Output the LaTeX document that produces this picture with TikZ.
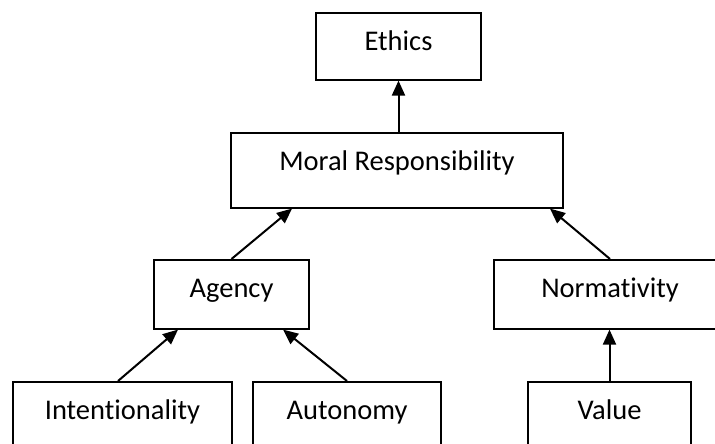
\documentclass[tikz,border=0pt]{standalone}
\usepackage{fontspec}
\setmainfont{Carlito}[Ligatures=NoCommon]
\usetikzlibrary{arrows.meta}
\begin{document}
\begin{tikzpicture}[x=1pt,y=1pt,
  box/.style={draw=black, line width=1.6pt, rectangle, inner sep=0pt, anchor=north,
    text height=37.5pt, font=\fontsize{28.5}{34}\selectfont},
  conn/.style={line width=2pt, -{Triangle[length=15pt,width=13pt]}}]
\useasboundingbox (0,0) rectangle (715,-444);
\clip (0,0) rectangle (715,-444);
\node[box, minimum width=165pt, text depth=29.5pt] (ethics) at (398.5,-12) {Ethics};
\node[box, minimum width=332pt, text depth=37.5pt] (mr) at (397,-132) {Moral Responsibility};
\node[box, minimum width=155pt, text depth=31.5pt] (agency) at (231.5,-259) {Agency};
\node[box, minimum width=232pt, text depth=31.5pt] (norm) at (610,-259) {Normativity};
\node[box, minimum width=219pt, text depth=31pt] (int) at (122.5,-381) {Intentionality};
\node[box, minimum width=188pt, text depth=31pt] (aut) at (347,-381) {Autonomy};
\node[box, minimum width=163pt, text depth=31pt] (val) at (609.5,-381) {Value};
\draw[conn] (ethics.south |- mr.north) -- (ethics.south);
\draw[conn] (agency.north) -- ([xshift=-105pt]mr.south);
\draw[conn] (norm.north) -- ([xshift=153pt]mr.south);
\draw[conn] ([xshift=-4.5pt]int.north) -- ([xshift=-53.5pt]agency.south);
\draw[conn] (aut.north) -- ([xshift=51.5pt]agency.south);
\draw[conn] (val.north) -- (val.north |- norm.south);
\end{tikzpicture}
\end{document}
